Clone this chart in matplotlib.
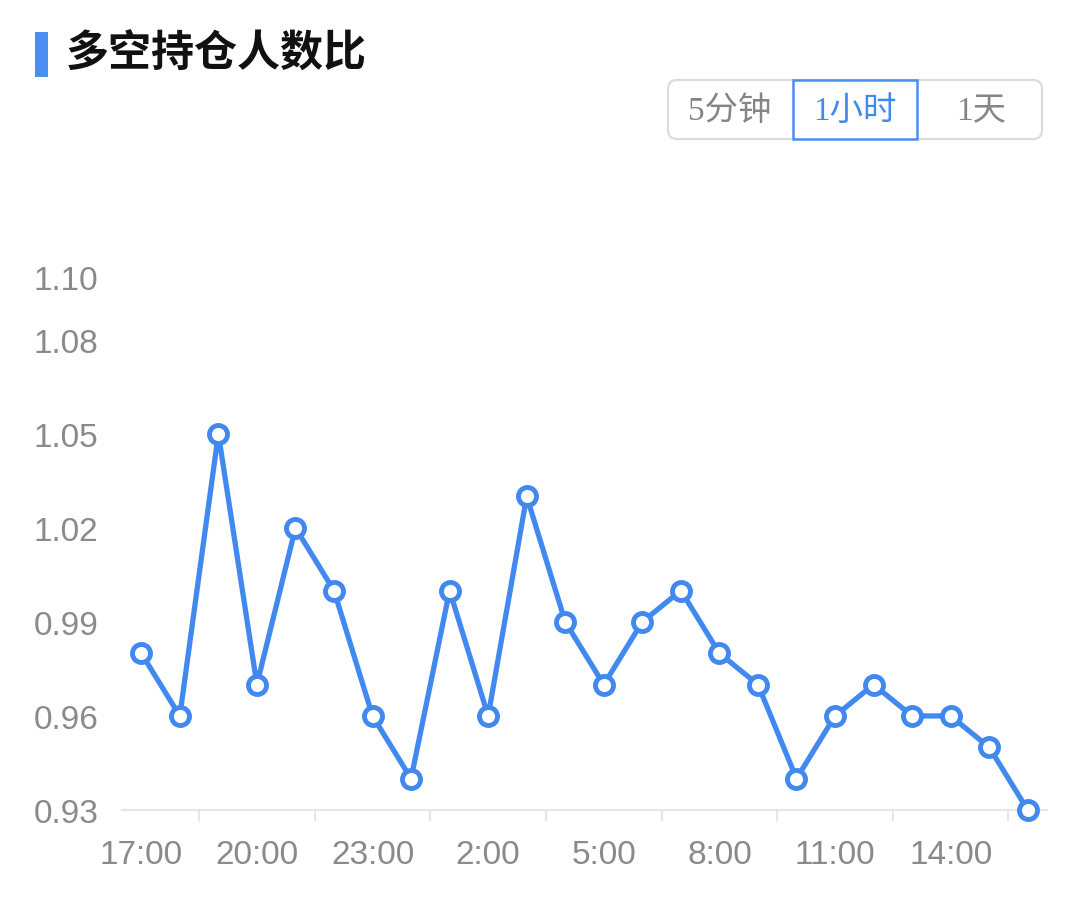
import matplotlib
matplotlib.use('Agg')
import matplotlib.pyplot as plt
from matplotlib.patches import FancyBboxPatch, Rectangle

# hourly long/short holder ratio, 17:00 -> 16:00
hours = ['17:00', '18:00', '19:00', '20:00', '21:00', '22:00', '23:00', '0:00',
         '1:00', '2:00', '3:00', '4:00', '5:00', '6:00', '7:00', '8:00',
         '9:00', '10:00', '11:00', '12:00', '13:00', '14:00', '15:00', '16:00']
ratio = [0.98, 0.96, 1.05, 0.97, 1.02, 1.00, 0.96, 0.94,
         1.00, 0.96, 1.03, 0.99, 0.97, 0.99, 1.00, 0.98,
         0.97, 0.94, 0.96, 0.97, 0.96, 0.96, 0.95, 0.93]
y_ticks = [0.93, 0.96, 0.99, 1.02, 1.05, 1.08, 1.10]
title = '多空持仓人数比'
buttons = ['5分钟', '1小时', '1天']

W, H = 1079, 903
blue = '#4189ee'
gray = '#8a8a8a'

fig = plt.figure(figsize=(W / 100, H / 100), dpi=100)
fig.patch.set_facecolor('white')

# main chart area (pixel box 122..1047 x, 278..811 y)
ax = fig.add_axes([122 / W, 1 - 811 / H, 925 / W, 533 / H])
x = list(range(len(hours)))
ax.plot(x, ratio, color=blue, lw=3.8, marker='o', ms=13, mfc='white',
        mec=blue, mew=3.5, clip_on=False, zorder=3)
ax.set_xlim(-0.5, len(hours) - 0.5)
ax.set_ylim(0.93, 1.10)

ax.set_yticks(y_ticks)
ax.set_yticklabels([f'{v:.2f}' for v in y_ticks])
lab_idx = x[::3]
ax.set_xticks(lab_idx)
ax.set_xticklabels([hours[i] for i in lab_idx])
ax.set_xticks([i + 1.5 for i in lab_idx], minor=True)

for s in ['top', 'right', 'left']:
    ax.spines[s].set_visible(False)
ax.spines['bottom'].set_color('#e3e6ec')
ax.spines['bottom'].set_linewidth(1.5)
ax.tick_params(axis='y', length=0, pad=17, labelsize=24, labelcolor=gray)
ax.tick_params(axis='x', which='major', length=0, pad=21, labelsize=24, labelcolor=gray)
ax.tick_params(axis='x', which='minor', length=8, width=1.5, color='#e3e6ec')
for t in ax.get_xticklabels() + ax.get_yticklabels():
    t.set_fontfamily(['Liberation Sans', 'DejaVu Sans'])

# header: title + period switch, drawn in pixel coords
ov = fig.add_axes([0, 0, 1, 1], zorder=-1)
ov.set_xlim(0, W)
ov.set_ylim(H, 0)
ov.axis('off')
ov.add_patch(Rectangle((35, 33), 13, 45, color='#4a8ef0', lw=0))
ov.text(66, 54, title, fontsize=31, fontweight='bold', color='#111111',
        va='center', ha='left', family=['Noto Sans CJK SC', 'DejaVu Sans'])

ov.add_patch(FancyBboxPatch((668, 81), 374, 59, boxstyle='round,pad=0,rounding_size=9',
                            fc='white', ec='#dcdcdc', lw=1.6))
ov.add_patch(Rectangle((793, 81), 124, 59, fc='white', ec='#4a8ef0', lw=1.8))
btn_x = [730, 855, 981]
for i, b in enumerate(buttons):
    ov.text(btn_x[i], 112, b, fontsize=24, color=blue if i == 1 else '#858585',
            ha='center', va='center', fontweight='light',
            family=['Liberation Serif', 'Noto Sans CJK SC'])

fig.savefig('out.png', dpi=100)
